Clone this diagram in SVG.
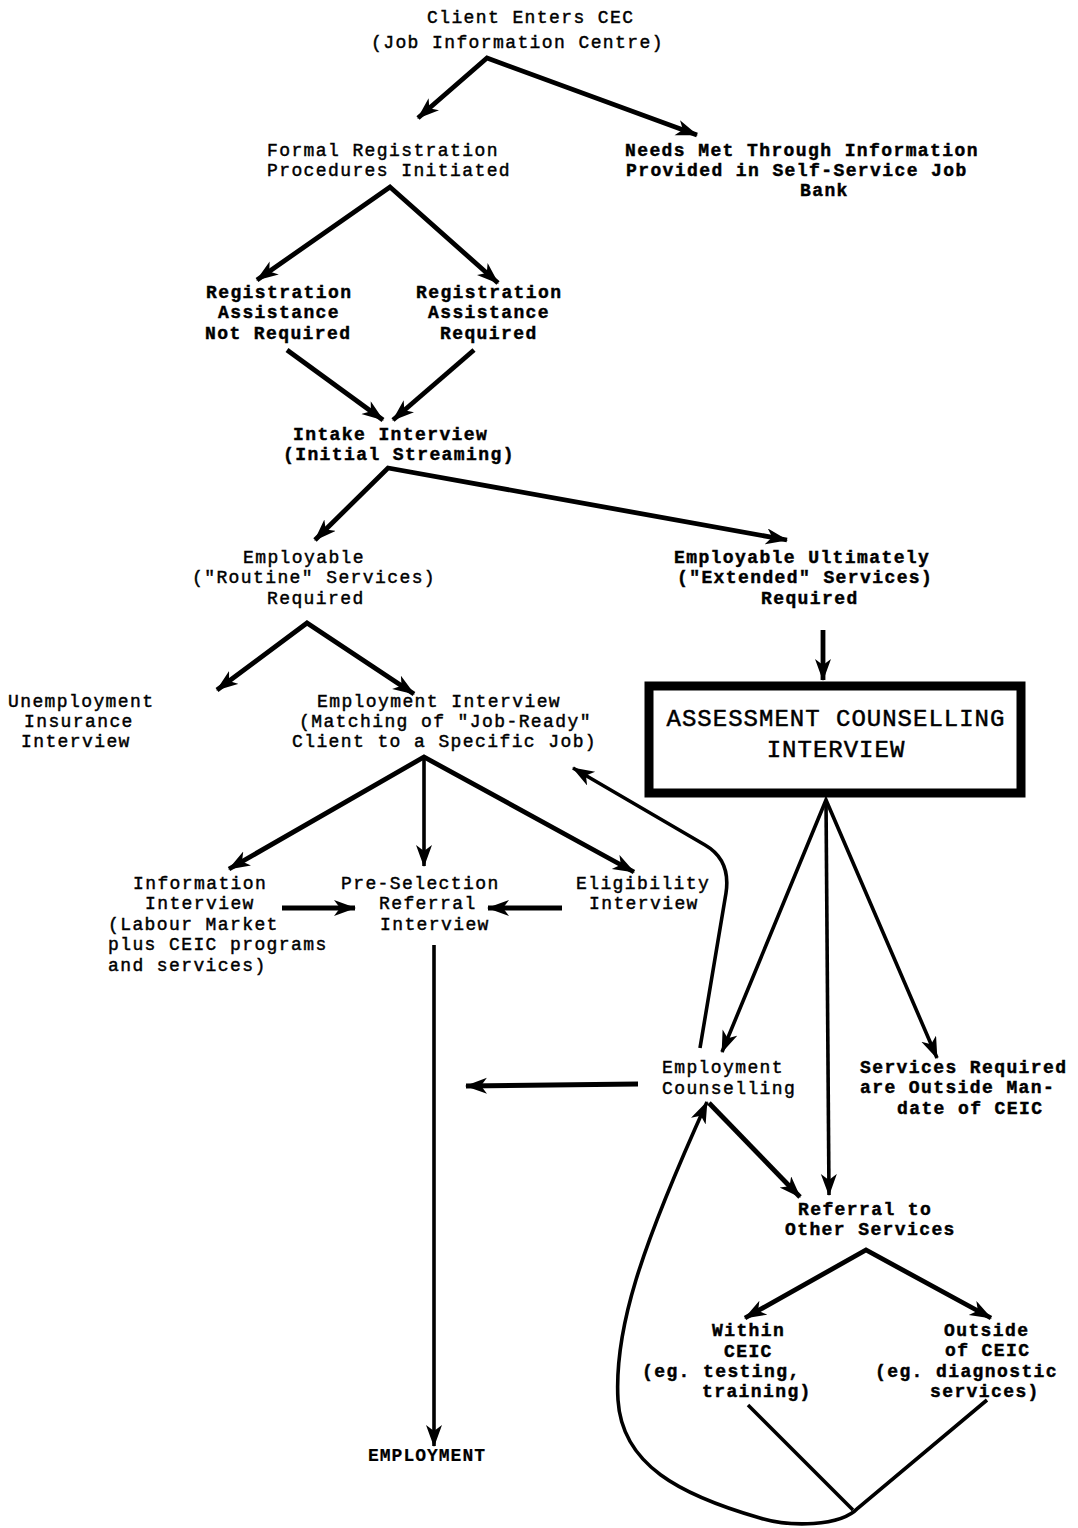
<svg xmlns="http://www.w3.org/2000/svg" width="1078" height="1528" viewBox="0 0 1078 1528">
<style>
text{font-family:"Liberation Mono","DejaVu Sans Mono",monospace;font-size:18px;letter-spacing:1.4px;fill:#000;stroke:#000;stroke-width:0.45}
.b{font-weight:bold;stroke-width:0.2}
.big{font-size:24px;letter-spacing:1px;stroke-width:0.5}
.c{text-anchor:middle}
.ln{fill:none;stroke:#000;stroke-width:4.8;stroke-linejoin:miter;stroke-linecap:butt}
.th{stroke-width:3.6}
</style>
<defs>
<marker id="ah" markerUnits="userSpaceOnUse" markerWidth="24" markerHeight="18" refX="21" refY="8" orient="auto-start-reverse" viewBox="0 0 24 18">
<path d="M0,0 L22,8 L0,16 L6,8 Z" fill="#000"/>
</marker>
</defs>
<rect width="1078" height="1528" fill="#fff"/>
<g id="connectors">
<polyline class="ln" points="418,118 487,58 697,135" marker-start="url(#ah)" marker-end="url(#ah)"/>
<polyline class="ln" points="257,280 390,187 498,283" marker-start="url(#ah)" marker-end="url(#ah)"/>
<line class="ln" x1="287" y1="350" x2="383" y2="420" marker-end="url(#ah)"/>
<line class="ln" x1="474" y1="350" x2="393" y2="420" marker-end="url(#ah)"/>
<polyline class="ln" points="315,540 388,468 787,540" marker-start="url(#ah)" marker-end="url(#ah)"/>
<line class="ln" x1="823" y1="630" x2="823" y2="680" marker-end="url(#ah)"/>
<polyline class="ln" points="217,690 307,623 414,694" marker-start="url(#ah)" marker-end="url(#ah)"/>
<polyline class="ln" points="229,869 424,757 634,872" marker-start="url(#ah)" marker-end="url(#ah)"/>
<line class="ln th" x1="424" y1="757" x2="424" y2="866" marker-end="url(#ah)"/>
<line class="ln" x1="282" y1="908" x2="355" y2="908" marker-end="url(#ah)"/>
<line class="ln" x1="562" y1="908" x2="488" y2="908" marker-end="url(#ah)"/>
<line class="ln th" x1="434" y1="945" x2="434" y2="1446" marker-end="url(#ah)"/>
<path class="ln th" d="M700,1048 L726,893 Q731,860 705,845 L573,768" marker-end="url(#ah)"/>
<polyline class="ln th" points="722,1052 826,800 937,1058" marker-start="url(#ah)" marker-end="url(#ah)"/>
<line class="ln th" x1="826" y1="800" x2="829" y2="1195" marker-end="url(#ah)"/>
<line class="ln" x1="638" y1="1084" x2="466" y2="1086" marker-end="url(#ah)"/>
<line class="ln" x1="709" y1="1103" x2="800" y2="1197" marker-end="url(#ah)"/>
<polyline class="ln" points="745,1318 866,1250 991,1318" marker-start="url(#ah)" marker-end="url(#ah)"/>
<line class="ln th" x1="748" y1="1405" x2="853" y2="1510"/>
<path class="ln th" d="M987,1400 L858,1508 C840,1527 790,1527 760,1518 C680,1495 622,1465 618,1400 C614,1330 640,1250 707,1102" marker-end="url(#ah)"/>
</g>
<g id="n-client"><text x="427" y="23">Client Enters CEC</text><text x="371" y="48">(Job Information Centre)</text></g>
<g id="n-formal"><text x="267" y="156">Formal Registration</text><text x="267" y="176">Procedures Initiated</text></g>
<g id="n-needs" class="b"><text x="625" y="156">Needs Met Through Information</text><text x="626" y="176">Provided in Self-Service Job</text><text x="800" y="196">Bank</text></g>
<g id="n-regnot" class="b"><text x="206" y="298">Registration</text><text x="218" y="318">Assistance</text><text x="205" y="339">Not Required</text></g>
<g id="n-regreq" class="b"><text x="416" y="298">Registration</text><text x="428" y="318">Assistance</text><text x="440" y="339">Required</text></g>
<g id="n-intake" class="b"><text x="293" y="440">Intake Interview</text><text x="283" y="460">(Initial Streaming)</text></g>
<g id="n-routine"><text x="243" y="563">Employable</text><text x="192" y="583">("Routine" Services)</text><text x="267" y="604">Required</text></g>
<g id="n-extended" class="b"><text x="674" y="563">Employable Ultimately</text><text x="677" y="583">("Extended" Services)</text><text x="761" y="604">Required</text></g>
<g id="n-ui"><text x="8" y="707">Unemployment</text><text x="24" y="727">Insurance</text><text x="21" y="747">Interview</text></g>
<g id="n-empint"><text x="317" y="707">Employment Interview</text><text x="299" y="727">(Matching of "Job-Ready"</text><text x="292" y="747">Client to a Specific Job)</text></g>
<g id="n-assess"><rect x="649" y="686" width="372" height="107" fill="none" stroke="#000" stroke-width="9"/><text class="big c" x="836" y="726">ASSESSMENT COUNSELLING</text><text class="big c" x="836" y="757">INTERVIEW</text></g>
<g id="n-info"><text x="133" y="889">Information</text><text x="145" y="909">Interview</text><text x="108" y="930">(Labour Market</text><text x="108" y="950">plus CEIC programs</text><text x="108" y="971">and services)</text></g>
<g id="n-presel"><text x="341" y="889">Pre-Selection</text><text x="379" y="909">Referral</text><text x="380" y="930">Interview</text></g>
<g id="n-elig"><text x="576" y="889">Eligibility</text><text x="589" y="909">Interview</text></g>
<g id="n-empcoun"><text x="662" y="1073">Employment</text><text x="662" y="1094">Counselling</text></g>
<g id="n-outside-mandate" class="b"><text x="860" y="1073">Services Required</text><text x="860" y="1093">are Outside Man-</text><text x="897" y="1114">date of CEIC</text></g>
<g id="n-referral" class="b"><text x="798" y="1215">Referral to</text><text x="785" y="1235">Other Services</text></g>
<g id="n-within" class="b"><text x="712" y="1336">Within</text><text x="724" y="1357">CEIC</text><text x="642" y="1377">(eg. testing,</text><text x="702" y="1397">training)</text></g>
<g id="n-outsideceic" class="b"><text x="944" y="1336">Outside</text><text x="945" y="1356">of CEIC</text><text x="875" y="1377">(eg. diagnostic</text><text x="930" y="1397">services)</text></g>
<g id="n-employment"><text class="b" x="368" y="1461" style="letter-spacing:1px">EMPLOYMENT</text></g>
</svg>
